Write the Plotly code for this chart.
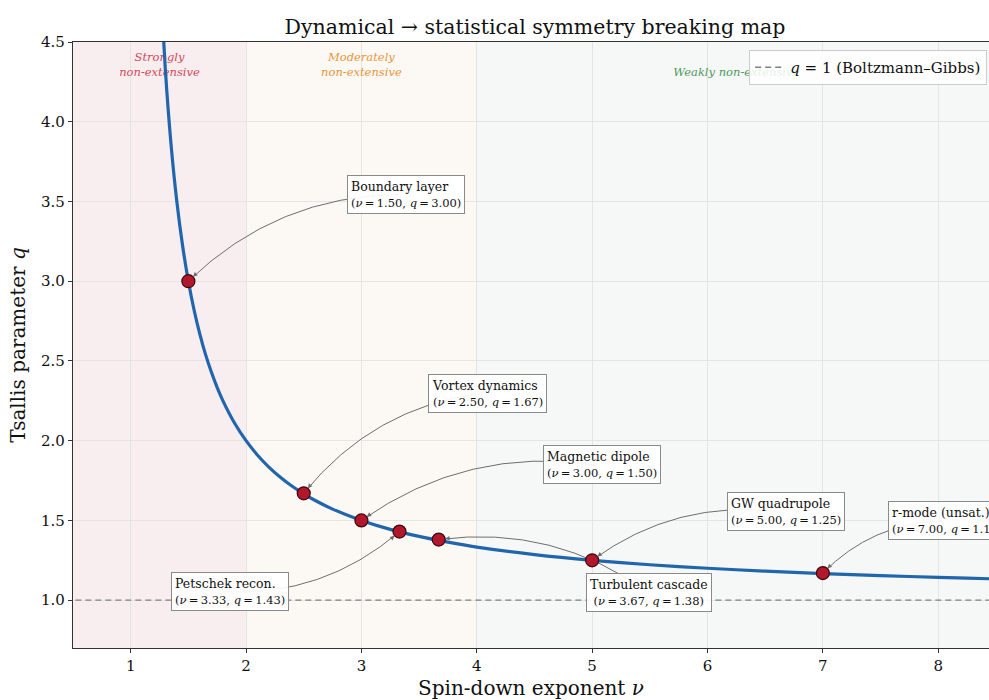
import plotly.graph_objects as go

# ---------------- data ----------------
nu_curve = [1.2, 1.25, 1.3, 1.35, 1.4, 1.45, 1.5, 1.55, 1.6, 1.65, 1.7, 1.75, 1.8, 1.9, 2.0, 2.1, 2.2,
            2.3, 2.4, 2.5, 2.6, 2.75, 3.0, 3.25, 3.5, 3.75, 4.0, 4.5, 5.0, 5.5, 6.0, 6.5, 7.0, 7.5,
            8.0, 8.5, 9.0]
q_curve = [6.0, 5.0, 4.333, 3.857, 3.5, 3.222, 3.0, 2.818, 2.667, 2.538, 2.429, 2.333, 2.25, 2.111,
           2.0, 1.909, 1.833, 1.769, 1.714, 1.667, 1.625, 1.571, 1.5, 1.444, 1.4, 1.364, 1.333,
           1.286, 1.25, 1.222, 1.2, 1.182, 1.167, 1.154, 1.143, 1.133, 1.125]

case_names = ["Boundary layer", "Vortex dynamics", "Magnetic dipole", "Petschek recon.",
              "Turbulent cascade", "GW quadrupole", "r-mode (unsat.)"]
case_nu = [1.50, 2.50, 3.00, 3.33, 3.67, 5.00, 7.00]
case_q = [3.00, 1.67, 1.50, 1.43, 1.38, 1.25, 1.17]

# label placement (layout): anchor x, anchor y, x-anchor, approx box width px
lab_x = [2.874, 3.576, 4.573, 1.349, 5.491, 6.167, 7.562]
lab_y = [3.544, 2.299, 1.848, 1.052, 1.045, 1.553, 1.497]
lab_anchor = ["left", "left", "left", "left", "center", "left", "left"]
lab_w = [106, 108, 106, 105, 118, 106, 108]

regions = [(0.5, 2.0, "#f8eef0"), (2.0, 4.0, "#fcf9f4"), (4.0, 10.0, "#f5f8f7")]
region_labels = ["<i>Strongly</i><br><i>non-extensive</i>", "<i>Moderately</i><br><i>non-extensive</i>",
                 "<i>Weakly non-extensive</i>"]
region_label_x = [1.25, 3.0, 6.25]
region_label_col = ["#d1495b", "#e8963c", "#4f9a5e"]

# ---------------- layout geometry ----------------
FW, FH = 989, 700
ML, MR, MT, MB = 73, 0, 42, 52
X0, X1 = 0.5, 8.44
Y0, Y1 = 0.7, 4.5
PW, PH = FW - ML - MR, FH - MT - MB

def px(v):
    return ML + (v - X0) * PW / (X1 - X0)

def py(v):
    return MT + (Y1 - v) * PH / (Y1 - Y0)

def dx_(p):
    return X0 + (p - ML) * (X1 - X0) / PW

def dy_(p):
    return Y1 - (p - MT) * (Y1 - Y0) / PH

FONT = "DejaVu Serif"
TS = "\u2009"

fig = go.Figure()

shapes = []
for a, b, c in regions:
    shapes.append(dict(type="rect", xref="x", yref="paper", x0=a, x1=b, y0=0, y1=1,
                       fillcolor=c, line=dict(width=0), layer="below"))

annotations = []
rad = 0.2
for i in range(len(case_names)):
    ex, ey = px(case_nu[i]), py(case_q[i])
    if lab_anchor[i] == "left":
        sx = px(lab_x[i]) + lab_w[i] / 2
    else:
        sx = px(lab_x[i])
    sy = py(lab_y[i])
    mx, my = (sx + ex) / 2, (sy + ey) / 2
    ddx = ex - sx
    ddyu = -(ey - sy)
    cx = mx + rad * ddyu
    cy = my + rad * ddx
    path = "M {:.4f},{:.4f} Q {:.4f},{:.4f} {:.4f},{:.4f}".format(
        dx_(sx), dy_(sy), dx_(cx), dy_(cy), case_nu[i], case_q[i])
    shapes.append(dict(type="path", xref="x", yref="y", path=path,
                       line=dict(color="#6e6e6e", width=1), layer="between"))
    vx, vy = cx - ex, cy - ey
    n = (vx ** 2 + vy ** 2) ** 0.5
    annotations.append(dict(x=case_nu[i], y=case_q[i], xref="x", yref="y", text="",
                            showarrow=True, ax=vx / n * 12, ay=vy / n * 12,
                            arrowhead=2, arrowsize=0.9, arrowwidth=1, arrowcolor="#6e6e6e",
                            standoff=6.5))
    second = "(<i>ν</i>{0}={0}{1:.2f}, <i>q</i>{0}={0}{2:.2f})".format(TS, case_nu[i], case_q[i])
    txt = "{}<br><span style='font-size:11.5px'>{}</span>".format(case_names[i], second)
    annotations.append(dict(x=lab_x[i], y=lab_y[i], xref="x", yref="y", text=txt,
                            showarrow=False, xanchor=lab_anchor[i], yanchor="middle",
                            align="left" if lab_anchor[i] == "left" else "center",
                            font=dict(family=FONT, size=12.5, color="#111"),
                            bgcolor="rgba(255,255,255,0.92)", bordercolor="#8a8a8a",
                            borderwidth=1, borderpad=3))

# region labels as a text trace (drawn beneath the legend)
fig.add_trace(go.Scatter(x=region_label_x, y=[4.27, 4.27, 4.27], mode="text",
                         text=region_labels, textposition="top center",
                         textfont=dict(family=FONT, size=11.5, color=region_label_col),
                         showlegend=False, hoverinfo="skip"))

fig.add_trace(go.Scatter(x=[0, 10], y=[1, 1], mode="lines",
                         line=dict(color="#808080", width=1.3, dash="6px,4px"),
                         name="<i>q</i> = 1 (Boltzmann–Gibbs)", showlegend=True))
fig.add_trace(go.Scatter(x=nu_curve, y=q_curve, mode="lines",
                         line=dict(color="#2166ac", width=3.2, shape="spline", smoothing=0.8),
                         showlegend=False, hoverinfo="skip"))
fig.add_trace(go.Scatter(x=case_nu, y=case_q, mode="markers",
                         marker=dict(size=13, color="#b2182b", line=dict(color="#3a0810", width=1.2)),
                         showlegend=False, text=case_names))

fig.update_layout(
    width=FW, height=FH,
    margin=dict(l=ML, r=MR, t=MT, b=MB, autoexpand=False),
    paper_bgcolor="white", plot_bgcolor="white",
    font=dict(family=FONT, color="#111"),
    title=dict(text="Dynamical → statistical symmetry breaking map", x=535 / FW, xanchor="center",
               y=1 - 27 / FH, yanchor="middle", font=dict(family=FONT, size=20.5, color="#111")),
    shapes=shapes, annotations=annotations,
    legend=dict(x=0.998, xanchor="right", y=1 - (50 - MT) / PH, yanchor="top",
                bgcolor="rgba(255,255,255,0.85)", bordercolor="#cccccc", borderwidth=1,
                font=dict(family=FONT, size=15)),
    xaxis=dict(range=[X0, X1], tickvals=[1, 2, 3, 4, 5, 6, 7, 8], showgrid=True,
               gridcolor="#e4e4e4", gridwidth=1, zeroline=False,
               showline=True, linecolor="#333", linewidth=1.2, mirror=True,
               ticks="outside", ticklen=4, tickcolor="#333",
               tickfont=dict(family=FONT, size=15),
               title=dict(text="Spin-down exponent <i>ν</i>", font=dict(family=FONT, size=20), standoff=8)),
    yaxis=dict(range=[Y0, Y1], tickvals=[1.0, 1.5, 2.0, 2.5, 3.0, 3.5, 4.0, 4.5],
               ticktext=["1.0", "1.5", "2.0", "2.5", "3.0", "3.5", "4.0", "4.5"],
               showgrid=True, gridcolor="#e4e4e4", gridwidth=1, zeroline=False,
               showline=True, linecolor="#333", linewidth=1.2,
               ticks="outside", ticklen=4, tickcolor="#333",
               tickfont=dict(family=FONT, size=15),
               title=dict(text="Tsallis parameter <i>q</i>", font=dict(family=FONT, size=20), standoff=10)),
)

fig.write_html("out.html")
